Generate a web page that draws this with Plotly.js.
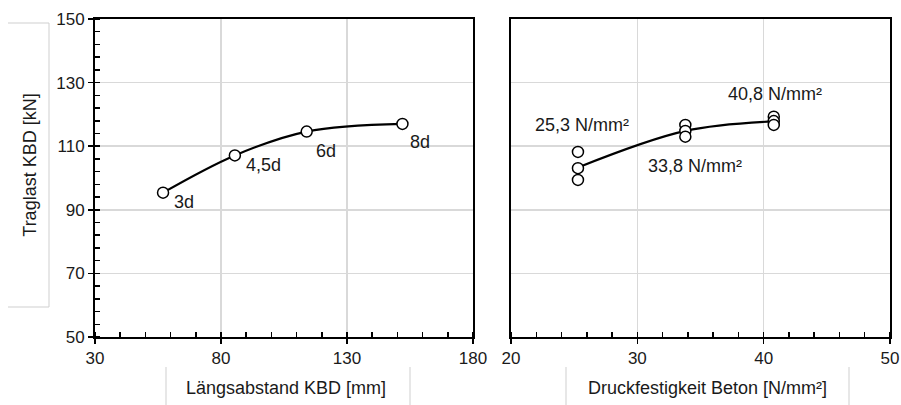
<!DOCTYPE html>
<html><head><meta charset="utf-8">
<script src="https://cdn.plot.ly/plotly-3.0.1.min.js"></script>
<style>body{margin:0;background:#fff;}#chart{width:901px;height:405px;}</style>
</head><body><div id="chart"></div>
<script>
// ---- data ----
const spacingLabels = ['3d', '4,5d', '6d', '8d'];
const spacingMm = [57, 85.5, 114, 152];
const loadBySpacing = [95.4, 107.1, 114.6, 117.0];

const strengthX = [25.3, 25.3, 25.3, 33.8, 33.8, 33.8, 40.8, 40.8, 40.8];
const strengthLoad = [108.2, 103.1, 99.4, 116.7, 114.8, 113.0, 119.3, 117.9, 116.7];
const strengthLevels = [25.3, 33.8, 40.8];
const strengthMeanLoad = [103.3, 114.8, 117.8];
const strengthLabels = ['25,3 N/mm²', '33,8 N/mm²', '40,8 N/mm²'];
const strengthLabelLoad = [116.7, 103.9, 126.3];

const yTicks = [50, 70, 90, 110, 130, 150];
const xTicksLeft = [30, 80, 130, 180];
const xTicksRight = [20, 30, 40, 50];

// ---- styling ----
const W = 901, H = 405;
const FONT = 'Liberation Sans, Arial, sans-serif';
const TXT = '#1a1a1a';
const GRID = '#d9d9d9';
const px = x => x / W, py = y => 1 - y / H;

const marker = {symbol: 'circle', size: 11, color: '#ffffff', line: {color: '#000000', width: 1.5}};

const traces = [
  {x: spacingMm, y: loadBySpacing, xaxis: 'x', yaxis: 'y', mode: 'lines+markers',
   line: {color: '#000', width: 2.2, shape: 'spline', smoothing: 1}, marker: marker, hoverinfo: 'skip'},
  {x: strengthLevels, y: strengthMeanLoad, xaxis: 'x2', yaxis: 'y2', mode: 'lines',
   line: {color: '#000', width: 2.2, shape: 'spline', smoothing: 1}, hoverinfo: 'skip'},
  {x: strengthX, y: strengthLoad, xaxis: 'x2', yaxis: 'y2', mode: 'markers',
   marker: marker, hoverinfo: 'skip'}
];

const axCommon = {
  showline: true, linecolor: '#000', linewidth: 2, mirror: true,
  showgrid: true, gridcolor: GRID, gridwidth: 1.5, zeroline: false,
  ticks: 'outside', ticklen: 5, tickwidth: 1.5, tickcolor: '#000',
  tickfont: {family: FONT, size: 17, color: TXT}, fixedrange: true
};

const leftShift = [[9, -9], [9, -10], [7.6, -19], [6, -18]];
const rightShift = [4, 9.5, 1.6];

const annotations = [];
spacingLabels.forEach((t, i) => annotations.push({
  text: t, x: spacingMm[i], y: loadBySpacing[i], xref: 'x', yref: 'y',
  xanchor: 'left', yanchor: 'middle', xshift: leftShift[i][0], yshift: leftShift[i][1],
  showarrow: false, font: {family: FONT, size: 18, color: TXT}
}));
strengthLabels.forEach((t, i) => annotations.push({
  text: t, x: strengthLevels[i], y: strengthLabelLoad[i], xref: 'x2', yref: 'y2',
  xanchor: 'center', yanchor: 'middle', xshift: rightShift[i],
  showarrow: false, font: {family: FONT, size: 18, color: TXT}
}));
annotations.push(
  {text: 'Traglast KBD [kN]', x: px(30), y: py(165.7), xref: 'paper', yref: 'paper', textangle: -90,
   xanchor: 'center', yanchor: 'middle', showarrow: false, font: {family: FONT, size: 18, color: TXT}},
  {text: 'Längsabstand KBD [mm]', x: px(286), y: py(388), xref: 'paper', yref: 'paper',
   xanchor: 'center', yanchor: 'middle', showarrow: false, font: {family: FONT, size: 18, color: TXT}},
  {text: 'Druckfestigkeit Beton [N/mm²]', x: px(707), y: py(388), xref: 'paper', yref: 'paper',
   xanchor: 'center', yanchor: 'middle', showarrow: false, font: {family: FONT, size: 18, color: TXT}}
);

const boxLine = {color: '#cfcfcf', width: 1};
const seg = (x0, y0, x1, y1) => ({type: 'line', xref: 'paper', yref: 'paper',
  x0: px(x0), y0: py(y0), x1: px(x1), y1: py(y1), line: boxLine, layer: 'below'});
const shapes = [
  seg(8, 23, 49, 23), seg(49, 23, 49, 307), seg(8, 307, 49, 307),
  seg(166, 367, 166, 405), seg(410, 367, 410, 405),
  seg(566, 367, 566, 405), seg(849, 367, 849, 405)
];

const layout = {
  width: W, height: H, margin: {l: 0, r: 0, t: 0, b: 0},
  paper_bgcolor: '#fff', plot_bgcolor: '#fff', showlegend: false,
  xaxis: Object.assign({}, axCommon, {domain: [px(95), px(473)], range: [30, 180],
    tickvals: xTicksLeft, ticktext: xTicksLeft.map(String),
    minor: {dtick: 10, tick0: 30, ticks: 'inside', ticklen: 5, tickwidth: 1.5, tickcolor: '#000', showgrid: false},
    anchor: 'y'}),
  yaxis: Object.assign({}, axCommon, {domain: [py(337), py(19)], range: [50, 150],
    tickvals: yTicks, ticktext: yTicks.map(String),
    minor: {dtick: 4, tick0: 50, ticks: 'inside', ticklen: 5, tickwidth: 1.5, tickcolor: '#000', showgrid: false},
    anchor: 'x'}),
  xaxis2: Object.assign({}, axCommon, {domain: [px(511), px(890)], range: [20, 50],
    tickvals: xTicksRight, ticktext: xTicksRight.map(String),
    minor: {dtick: 2, tick0: 20, ticks: 'inside', ticklen: 5, tickwidth: 1.5, tickcolor: '#000', showgrid: false},
    anchor: 'y2'}),
  yaxis2: Object.assign({}, axCommon, {domain: [py(337), py(19)], range: [50, 150],
    tickvals: yTicks, showticklabels: false, ticks: '', anchor: 'x2'}),
  annotations: annotations, shapes: shapes
};

Plotly.newPlot('chart', traces, layout, {displayModeBar: false, staticPlot: true});
</script>
</body></html>
